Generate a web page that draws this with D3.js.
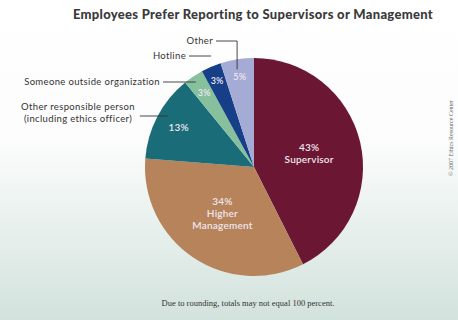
<!DOCTYPE html>
<html>
<head>
<meta charset="utf-8">
<script src="https://cdn.jsdelivr.net/npm/d3@7"></script>
<style>
  html, body { margin: 0; padding: 0; }
  body { width: 458px; height: 320px; overflow: hidden; }
  svg { display: block; font-family: Lato, "Open Sans", sans-serif; }
</style>
</head>
<body>
<div id="chart"></div>
<script>
// data
const categories = ["Supervisor", "Higher Management", "Other responsible person", "Someone outside organization", "Hotline", "Other"];
const percents = [43, 34, 13, 3, 3, 5];
const sliceColors = ["#6b1733", "#b6835b", "#1a6c78", "#86c09c", "#163f88", "#a4acd6"];
// text shown inside the slices (lines)
const insideLabels = [["43%", "Supervisor"], ["34%", "Higher", "Management"], ["13%"], ["3%"], ["3%"], ["5%"]];
// text shown outside, to the left of the pie
const outsideLabels = [null, null, ["Other responsible person", "(including ethics officer)"], ["Someone outside organization"], ["Hotline"], ["Other"]];

const title = "Employees Prefer Reporting to Supervisors or Management";
const footnote = "Due to rounding, totals may not equal 100 percent.";
const credit = "\u00a9 2007 Ethics Resource Center";

const width = 458, height = 320;
const cx = 254, cy = 167, radius = 109;

const svg = d3.select("#chart").append("svg")
  .attr("width", width)
  .attr("height", height);

// background: white fading to a pale grey-green at the bottom
const grad = svg.append("defs").append("linearGradient")
  .attr("id", "bg").attr("x1", 0).attr("y1", 0).attr("x2", 0).attr("y2", 1);
grad.append("stop").attr("offset", "0%").attr("stop-color", "#ffffff");
grad.append("stop").attr("offset", "45%").attr("stop-color", "#fbfcfb");
grad.append("stop").attr("offset", "100%").attr("stop-color", "#d2e2dc");
svg.append("rect").attr("width", width).attr("height", height).attr("fill", "url(#bg)");

// title
svg.append("text")
  .attr("x", 253)
  .attr("y", 19)
  .attr("text-anchor", "middle")
  .style("font-size", "13px")
  .style("font-weight", "900")
  .style("letter-spacing", "0.3px")
  .style("fill", "#3a3a3a")
  .text(title);

const pie = d3.pie().sort(null).value(d => d);
const arcs = pie(percents);
const arc = d3.arc().innerRadius(0).outerRadius(radius);

const g = svg.append("g").attr("transform", `translate(${cx},${cy})`);

g.selectAll("path.slice")
  .data(arcs)
  .enter()
  .append("path")
  .attr("class", "slice")
  .attr("d", arc)
  .attr("fill", (d, i) => sliceColors[i]);

// labels inside the slices
const labelR = [0.52, 0.52, 0.78, 0.82, 0.86, 0.84];
arcs.forEach((d, i) => {
  const r = radius * labelR[i];
  const [lx, ly] = d3.arc().innerRadius(r).outerRadius(r).centroid(d);
  const lines = insideLabels[i];
  const lh = 12;
  const t = g.append("text")
    .attr("text-anchor", "middle")
    .style("font-size", d.value > 10 ? "10px" : "9px")
    .style("font-weight", "600")
    .style("letter-spacing", "0.2px")
    .style("fill", "#efe6ee");
  lines.forEach((line, k) => {
    t.append("tspan")
      .attr("x", lx)
      .attr("y", ly + (k - (lines.length - 1) / 2) * lh + 3)
      .text(line);
  });
});

// outside labels with leader lines
const outsideY = [null, null, 114, 85, 59, 44];
arcs.forEach((d, i) => {
  const lines = outsideLabels[i];
  if (!lines) return;
  const ty = outsideY[i];
  const mid = (d.startAngle + d.endAngle) / 2;
  const px = cx + radius * Math.sin(mid);
  const py = cy - radius * Math.cos(mid);
  const t = svg.append("text")
    .attr("text-anchor", lines.length > 1 ? "middle" : "end")
    .style("font-size", "9.5px")
    .style("letter-spacing", "0.35px")
    .style("fill", "#333333");
  let endX;
  if (lines.length > 1) {
    t.attr("x", 78);
    lines.forEach((line, k) => {
      t.append("tspan").attr("x", 78).attr("y", ty - 4 + k * 12).text(line);
    });
    endX = 78 + t.node().getBBox().width / 2 + 5;
  } else {
    const rightX = i === 5 ? 213 : (i === 4 ? 186 : 160);
    t.attr("x", rightX).attr("y", ty).text(lines[0]);
    endX = rightX + 3;
  }
  const lineY = ty - 3 + (lines.length > 1 ? 5 : 0);
  let path;
  if (i === 5) {
    path = `M${endX},${lineY}H${px}V${py + 10}`;
  } else {
    const dy = lineY - cy;
    const edgeX = Math.abs(dy) < radius ? cx - Math.sqrt(radius * radius - dy * dy) : px;
    const stopX = i === 4 ? px : edgeX + 10;
    path = `M${endX},${lineY}H${stopX}`;
  }
  svg.append("path")
    .attr("d", path)
    .attr("fill", "none")
    .attr("stroke", "#333333")
    .attr("stroke-width", 0.9);
});

// footnote
svg.append("text")
  .attr("x", 248)
  .attr("y", 306)
  .attr("text-anchor", "middle")
  .style("font-size", "8.5px")
  .style("font-family", "'Liberation Serif', serif")
  .style("fill", "#333333")
  .text(footnote);

// vertical credit line
svg.append("text")
  .attr("transform", "translate(453,176) rotate(-90)")
  .attr("text-anchor", "start")
  .style("font-size", "6px")
  .style("font-family", "'Liberation Serif', serif")
  .style("fill", "#666666")
  .text(credit);
</script>
</body>
</html>
